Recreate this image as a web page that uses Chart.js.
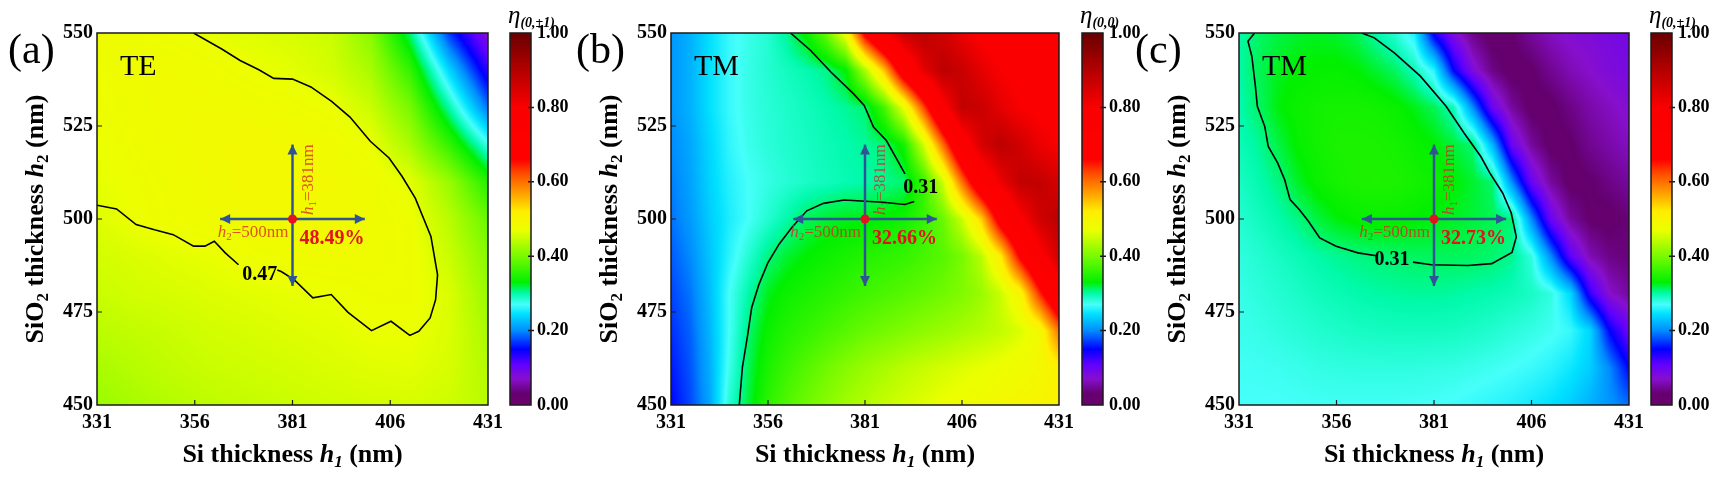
<!DOCTYPE html>
<html lang="en">
<head>
<meta charset="UTF-8">
<title>Diffraction efficiency maps</title>
<script src="https://cdn.jsdelivr.net/npm/chart.js"></script>
<style>
  html, body { margin: 0; padding: 0; background: #fff; }
  #wrap { position: relative; width: 1711px; height: 482px; overflow: hidden;
          font-family: 'Liberation Serif', 'Times New Roman', serif; }
  #wrap canvas { position: absolute; top: 0; }
  .txt { position: absolute; white-space: nowrap; line-height: 1; color: #000; }
  .axt { font-weight: bold; font-size: 26px; }
  .axt sub { font-size: 17px; vertical-align: -5px; line-height: 0; }
  .letter { font-size: 42px; }
  .mode { font-size: 30px; }
  .cbt { font-size: 25px; font-style: italic; }
  .cbt sub { font-size: 14px; font-weight: bold; vertical-align: -4px; line-height: 0; }
</style>
</head>
<body>
<div id="wrap"></div>
<script>
const FONT = "'Liberation Serif', 'Times New Roman', serif";

// axis ticks
const xTicks = [331, 356, 381, 406, 431];
const yTicks = [450, 475, 500, 525, 550];
const cbTicks = [0, 0.2, 0.4, 0.6, 0.8, 1.0];

// sample grid (nm)
const h1Coarse = [331, 341, 351, 361, 371, 381, 391, 401, 411, 421, 431];
const h1Fine = [331, 336, 341, 346, 351, 356, 361, 366, 371, 376, 381, 386, 391, 396, 401, 406, 411, 416, 421, 426, 431];
const h2Rows = [550, 540, 530, 520, 510, 500, 490, 480, 470, 460, 450];

// (a) TE, eta(0,+-1) - rows follow h2Rows, columns h1Coarse
const etaTE = [
  [0.480, 0.478, 0.473, 0.466, 0.462, 0.458, 0.450, 0.410, 0.310, 0.170, 0.075],
  [0.477, 0.480, 0.482, 0.478, 0.471, 0.465, 0.455, 0.430, 0.360, 0.240, 0.130],
  [0.475, 0.480, 0.483, 0.484, 0.482, 0.478, 0.472, 0.450, 0.400, 0.300, 0.190],
  [0.470, 0.478, 0.483, 0.486, 0.487, 0.486, 0.482, 0.471, 0.430, 0.360, 0.275],
  [0.466, 0.474, 0.480, 0.485, 0.488, 0.488, 0.486, 0.480, 0.466, 0.420, 0.350],
  [0.462, 0.472, 0.478, 0.483, 0.487, 0.485, 0.486, 0.482, 0.474, 0.440, 0.390],
  [0.455, 0.460, 0.465, 0.469, 0.476, 0.480, 0.482, 0.480, 0.476, 0.450, 0.410],
  [0.450, 0.455, 0.458, 0.462, 0.465, 0.468, 0.470, 0.476, 0.476, 0.460, 0.420],
  [0.440, 0.445, 0.450, 0.455, 0.458, 0.462, 0.465, 0.470, 0.471, 0.460, 0.430],
  [0.430, 0.438, 0.445, 0.450, 0.453, 0.456, 0.460, 0.463, 0.465, 0.458, 0.435],
  [0.420, 0.430, 0.437, 0.443, 0.447, 0.450, 0.453, 0.456, 0.457, 0.452, 0.440]
];

// (b) TM, eta(0,0) - columns h1Fine
const etaTM00 = [
  [0.205, 0.220, 0.245, 0.265, 0.276, 0.285, 0.305, 0.335, 0.390, 0.480, 0.680, 0.800, 0.870, 0.890, 0.860, 0.820, 0.790, 0.780, 0.770, 0.770, 0.770],
  [0.205, 0.220, 0.245, 0.265, 0.277, 0.285, 0.292, 0.298, 0.306, 0.330, 0.430, 0.550, 0.720, 0.830, 0.890, 0.870, 0.830, 0.800, 0.790, 0.780, 0.780],
  [0.205, 0.220, 0.245, 0.265, 0.277, 0.283, 0.288, 0.293, 0.298, 0.303, 0.310, 0.370, 0.470, 0.620, 0.780, 0.880, 0.870, 0.830, 0.800, 0.790, 0.790],
  [0.200, 0.215, 0.240, 0.262, 0.275, 0.282, 0.287, 0.291, 0.295, 0.299, 0.303, 0.308, 0.340, 0.450, 0.600, 0.760, 0.850, 0.890, 0.860, 0.820, 0.800],
  [0.195, 0.212, 0.238, 0.258, 0.270, 0.278, 0.284, 0.289, 0.293, 0.297, 0.300, 0.305, 0.310, 0.360, 0.450, 0.600, 0.740, 0.820, 0.880, 0.880, 0.850],
  [0.190, 0.208, 0.234, 0.255, 0.270, 0.285, 0.300, 0.315, 0.322, 0.326, 0.327, 0.332, 0.340, 0.360, 0.390, 0.450, 0.540, 0.700, 0.790, 0.860, 0.890],
  [0.182, 0.200, 0.230, 0.260, 0.285, 0.308, 0.322, 0.330, 0.337, 0.343, 0.350, 0.355, 0.360, 0.370, 0.380, 0.400, 0.440, 0.520, 0.670, 0.780, 0.860],
  [0.174, 0.192, 0.226, 0.270, 0.300, 0.325, 0.337, 0.345, 0.352, 0.360, 0.367, 0.373, 0.380, 0.387, 0.395, 0.405, 0.420, 0.450, 0.500, 0.640, 0.760],
  [0.166, 0.185, 0.222, 0.270, 0.310, 0.335, 0.350, 0.360, 0.370, 0.380, 0.390, 0.397, 0.405, 0.413, 0.420, 0.428, 0.436, 0.445, 0.460, 0.490, 0.600],
  [0.158, 0.180, 0.218, 0.275, 0.315, 0.345, 0.365, 0.380, 0.395, 0.408, 0.420, 0.430, 0.440, 0.448, 0.455, 0.462, 0.468, 0.475, 0.482, 0.490, 0.510],
  [0.150, 0.176, 0.214, 0.285, 0.320, 0.355, 0.378, 0.395, 0.410, 0.425, 0.437, 0.447, 0.456, 0.464, 0.472, 0.478, 0.484, 0.490, 0.495, 0.500, 0.510]
];

// (c) TM, eta(0,+-1) - columns h1Fine
const etaTM01 = [
  [0.300, 0.312, 0.318, 0.322, 0.324, 0.322, 0.315, 0.300, 0.285, 0.255, 0.140, 0.080, 0.040, 0.022, 0.030, 0.050, 0.065, 0.075, 0.080, 0.085, 0.090],
  [0.300, 0.315, 0.325, 0.330, 0.332, 0.333, 0.330, 0.322, 0.313, 0.295, 0.260, 0.150, 0.080, 0.040, 0.022, 0.028, 0.045, 0.060, 0.070, 0.080, 0.085],
  [0.298, 0.312, 0.328, 0.336, 0.340, 0.342, 0.342, 0.340, 0.335, 0.326, 0.315, 0.295, 0.200, 0.100, 0.050, 0.024, 0.026, 0.040, 0.055, 0.065, 0.075],
  [0.295, 0.303, 0.318, 0.332, 0.340, 0.345, 0.346, 0.345, 0.342, 0.336, 0.330, 0.320, 0.310, 0.220, 0.100, 0.050, 0.024, 0.028, 0.045, 0.055, 0.065],
  [0.290, 0.298, 0.307, 0.323, 0.335, 0.342, 0.346, 0.347, 0.346, 0.342, 0.337, 0.330, 0.322, 0.311, 0.200, 0.100, 0.050, 0.024, 0.028, 0.040, 0.050],
  [0.285, 0.292, 0.299, 0.307, 0.319, 0.328, 0.333, 0.335, 0.334, 0.331, 0.327, 0.324, 0.320, 0.316, 0.310, 0.200, 0.100, 0.050, 0.028, 0.024, 0.035],
  [0.280, 0.285, 0.290, 0.295, 0.300, 0.304, 0.307, 0.309, 0.311, 0.313, 0.314, 0.314, 0.313, 0.311, 0.305, 0.280, 0.200, 0.110, 0.060, 0.040, 0.035],
  [0.277, 0.281, 0.285, 0.289, 0.293, 0.296, 0.299, 0.301, 0.302, 0.303, 0.303, 0.302, 0.300, 0.298, 0.295, 0.290, 0.280, 0.240, 0.130, 0.070, 0.050],
  [0.275, 0.277, 0.280, 0.283, 0.286, 0.288, 0.290, 0.291, 0.292, 0.292, 0.292, 0.291, 0.289, 0.286, 0.282, 0.278, 0.273, 0.265, 0.240, 0.150, 0.100],
  [0.272, 0.273, 0.274, 0.276, 0.278, 0.279, 0.280, 0.280, 0.280, 0.280, 0.279, 0.278, 0.276, 0.273, 0.270, 0.266, 0.260, 0.250, 0.235, 0.200, 0.150],
  [0.270, 0.270, 0.270, 0.271, 0.272, 0.272, 0.272, 0.272, 0.272, 0.271, 0.270, 0.268, 0.265, 0.262, 0.258, 0.252, 0.245, 0.235, 0.220, 0.205, 0.190]
];

// iso-lines [h1, h2]; null = gap under the level label
const contourA = [[355.7, 550], [362.9, 545.7], [367.6, 542.6], [372.4, 540.1], [376.2, 537.8], [381.0, 537.6], [385.7, 535.5],
  [391.0, 531.6], [395.7, 527.4], [400.9, 520.9], [405.7, 516.4], [409.0, 511.5], [412.4, 505.6], [416.4, 495.3], [418.1, 485.0],
  [417.6, 478.3], [416.2, 473.4], [413.3, 469.8], [411.0, 468.7], [406.2, 472.5], [401.2, 470.0], [395.2, 474.9], [390.9, 479.7],
  [386.2, 478.8], [381.4, 483.7], [378.1, 485.9], [377.1, 486.3], null, [367.2, 487.7], [363.8, 490.9], [361.0, 494.0],
  [358.6, 492.7], [355.7, 492.7], [350.5, 495.8], [345.7, 497.1], [341.0, 498.5], [336.0, 502.7], [331, 503.7]];
const contourB = [[361.8, 550], [367.0, 545.3], [372.2, 539.5], [378.0, 533.7], [380.8, 530.5], [383.2, 524.7], [386.5, 521.1],
  [389.4, 515.7], [391.3, 512.1], null, [393.7, 504.7], [391.3, 503.9], [385.6, 504.5], [375.6, 505.1], [370.3, 504.2],
  [366.0, 502.2], [362.2, 497.8], [358.9, 493.3], [356.0, 488.3], [353.7, 482.5], [351.8, 476.2], [350.8, 469.1],
  [349.4, 460.1], [348.6, 450]];
const contourC = [[335.0, 550], [333.3, 547.8], [334.3, 543.7], [335.2, 535.7], [335.7, 530.3], [337.6, 524.9], [338.5, 519.5],
  [340.9, 515.1], [342.7, 510.6], [344.1, 505.2], [346.5, 502.5], [348.8, 499.4], [351.7, 494.9], [355.9, 492.7], [361.5, 490.9],
  [366.2, 490.1], null, [375.6, 488.4], [380.3, 487.7], [389.7, 487.5], [395.8, 488.0], [401.0, 491.0], [402.1, 495.2],
  [400.8, 501.6], [398.6, 507.0], [395.3, 512.4], [393.0, 516.8], [388.7, 523.1], [384.1, 530.3], [377.5, 538.4],
  [370.9, 544.6], [365.7, 548.7], [362.5, 550]];

// design point and arrows
const designPoint = [381, 500];
const arrowH1 = [362.5, 399.5];
const arrowH2 = [482, 520];

const letters = ['(a)', '(b)', '(c)'];
const modes = ['TE', 'TM', 'TM'];
const etaOrders = ['(0,±1)', '(0,0)', '(0,±1)'];
const designEff = ['48.49%', '32.66%', '32.73%'];
const levelText = ['0.47', '0.31', '0.31'];
const levelAt = [[372.6, 485.0], [395.4, 508.5], [370.2, 489.1]];

// rainbow palette of the colour bars
const cmapStops = [
  [0.00, [112, 0, 112]], [0.03, [100, 0, 110]], [0.07, [135, 15, 205]], [0.11, [95, 0, 255]], [0.15, [0, 0, 255]],
  [0.20, [0, 140, 255]], [0.245, [0, 225, 255]], [0.27, [70, 255, 250]], [0.30, [0, 250, 170]],
  [0.33, [0, 240, 0]], [0.40, [120, 250, 0]], [0.47, [235, 255, 0]], [0.52, [255, 238, 0]],
  [0.56, [255, 175, 0]], [0.62, [255, 80, 0]], [0.66, [255, 0, 0]], [0.80, [250, 0, 0]],
  [0.90, [180, 0, 0]], [1.00, [105, 0, 0]]
];

function cmap(v) {
  v = Math.max(0, Math.min(1, v));
  for (let k = 1; k < cmapStops.length; k++) {
    const [v1, c1] = cmapStops[k];
    if (v <= v1) {
      const [v0, c0] = cmapStops[k - 1];
      const t = (v - v0) / (v1 - v0);
      return [0, 1, 2].map(i => Math.round(c0[i] + (c1[i] - c0[i]) * t));
    }
  }
  return cmapStops[cmapStops.length - 1][1];
}

// value at (vx, vy) from the grid (shading between samples)
function sampleGrid(xs, ys, z, vx, vy) {
  const nx = xs.length, ny = ys.length;
  let fi = (vx - xs[0]) / (xs[1] - xs[0]);
  let fj = (ys[0] - vy) / (ys[0] - ys[1]);
  fi = Math.max(0, Math.min(nx - 1, fi));
  fj = Math.max(0, Math.min(ny - 1, fj));
  const i0 = Math.min(Math.floor(fi), nx - 2), j0 = Math.min(Math.floor(fj), ny - 2);
  const tx = fi - i0, ty = fj - j0;
  const a = z[j0][i0] * (1 - tx) + z[j0][i0 + 1] * tx;
  const b = z[j0 + 1][i0] * (1 - tx) + z[j0 + 1][i0 + 1] * tx;
  return a * (1 - ty) + b * ty;
}

function drawRich(ctx, parts, x, y, align, color) {
  let w = 0;
  parts.forEach(p => { ctx.font = p.f; p.w = ctx.measureText(p.t).width; w += p.w; });
  let cx = align === 'right' ? x - w : x;
  ctx.fillStyle = color;
  ctx.textAlign = 'left';
  ctx.textBaseline = 'alphabetic';
  parts.forEach(p => { ctx.font = p.f; ctx.fillText(p.t, cx, y + (p.dy || 0)); cx += p.w; });
}

function arrowHead(ctx, tx, ty, dx, dy) {
  const L = 10, W = 5;
  ctx.beginPath();
  ctx.moveTo(tx, ty);
  ctx.lineTo(tx - dx * L - dy * W, ty - dy * L + dx * W);
  ctx.lineTo(tx - dx * L + dy * W, ty - dy * L - dx * W);
  ctx.closePath();
  ctx.fill();
}

Chart.defaults.font.family = FONT;
const wrap = document.getElementById('wrap');

function addCanvas(left, width) {
  const c = document.createElement('canvas');
  c.width = width; c.height = 482;
  c.style.left = left + 'px';
  c.style.width = width + 'px'; c.style.height = '482px';
  wrap.appendChild(c);
  return c;
}

function addText(cls, html, left, top, extra) {
  const d = document.createElement('div');
  d.className = 'txt ' + cls;
  d.innerHTML = html;
  d.style.left = left + 'px';
  d.style.top = top + 'px';
  if (extra) Object.assign(d.style, extra);
  wrap.appendChild(d);
  return d;
}

const panels = [
  { plotLeft: 97, plotRight: 488, cbLeft: 510, letterLeft: 8, xs: h1Coarse, z: etaTE, contour: contourA },
  { plotLeft: 671, plotRight: 1059, cbLeft: 1082, letterLeft: 576, xs: h1Fine, z: etaTM00, contour: contourB },
  { plotLeft: 1239, plotRight: 1629, cbLeft: 1651, letterLeft: 1135, xs: h1Fine, z: etaTM01, contour: contourC }
];

panels.forEach((p, k) => {
  const canvasLeft = p.plotLeft - 97;
  const canvasW = p.plotRight - p.plotLeft + 97 + 32;
  const canvas = addCanvas(canvasLeft, canvasW);

  const heatmap = {
    id: 'heatmap',
    beforeDatasetsDraw(chart) {
      const { ctx, chartArea: a, scales: { x, y } } = chart;
      const w = Math.round(a.right - a.left), h = Math.round(a.bottom - a.top);
      const off = document.createElement('canvas');
      off.width = w; off.height = h;
      const octx = off.getContext('2d');
      const img = octx.createImageData(w, h);
      for (let j = 0; j < h; j++) {
        const vy = y.getValueForPixel(a.top + j + 0.5);
        for (let i = 0; i < w; i++) {
          const vx = x.getValueForPixel(a.left + i + 0.5);
          const c = cmap(sampleGrid(p.xs, h2Rows, p.z, vx, vy));
          const o = (j * w + i) * 4;
          img.data[o] = c[0]; img.data[o + 1] = c[1]; img.data[o + 2] = c[2]; img.data[o + 3] = 255;
        }
      }
      octx.putImageData(img, 0, 0);
      ctx.drawImage(off, a.left, a.top);
    }
  };

  const overlay = {
    id: 'overlay',
    afterDatasetsDraw(chart) {
      const { ctx, chartArea: a, scales: { x, y } } = chart;
      ctx.save();
      ctx.strokeStyle = '#1a1a1a';
      ctx.lineWidth = 1.5;
      ctx.strokeRect(a.left, a.top, a.right - a.left, a.bottom - a.top);
      ctx.lineWidth = 1.2;
      ctx.beginPath();
      xTicks.slice(1, -1).forEach(v => {
        const px = x.getPixelForValue(v);
        ctx.moveTo(px, a.bottom); ctx.lineTo(px, a.bottom - 5);
      });
      yTicks.slice(1, -1).forEach(v => {
        const py = y.getPixelForValue(v);
        ctx.moveTo(a.left, py); ctx.lineTo(a.left + 5, py);
      });
      ctx.stroke();

      // arrow heads
      const cx = x.getPixelForValue(designPoint[0]), cy = y.getPixelForValue(designPoint[1]);
      ctx.fillStyle = '#2f5496';
      arrowHead(ctx, x.getPixelForValue(arrowH1[0]), cy, -1, 0);
      arrowHead(ctx, x.getPixelForValue(arrowH1[1]), cy, 1, 0);
      arrowHead(ctx, cx, y.getPixelForValue(arrowH2[1]), 0, -1);
      arrowHead(ctx, cx, y.getPixelForValue(arrowH2[0]), 0, 1);

      const lbl = 'rgba(215, 40, 40, 0.78)';
      drawRich(ctx, [
        { t: 'h', f: `italic 17px ${FONT}` },
        { t: '2', f: `11px ${FONT}`, dy: 3 },
        { t: '=' + designPoint[1] + 'nm', f: `17px ${FONT}` }
      ], cx - 4, cy + 18, 'right', lbl);

      ctx.save();
      ctx.translate(cx + 20, cy - 4);
      ctx.rotate(-Math.PI / 2);
      drawRich(ctx, [
        { t: 'h', f: `italic 17px ${FONT}` },
        { t: '1', f: `11px ${FONT}`, dy: 3 },
        { t: '=' + designPoint[0] + 'nm', f: `17px ${FONT}` }
      ], 0, 0, 'left', lbl);
      ctx.restore();

      ctx.font = `bold 20px ${FONT}`;
      ctx.fillStyle = '#e3121f';
      ctx.textAlign = 'left';
      ctx.textBaseline = 'alphabetic';
      ctx.fillText(designEff[k], cx + 7, cy + 25);

      ctx.fillStyle = '#000';
      ctx.textAlign = 'center';
      ctx.textBaseline = 'middle';
      ctx.fillText(levelText[k], x.getPixelForValue(levelAt[k][0]), y.getPixelForValue(levelAt[k][1]));
      ctx.restore();
    }
  };

  new Chart(canvas, {
    type: 'scatter',
    data: {
      datasets: [
        { data: [{ x: designPoint[0], y: designPoint[1] }], pointRadius: 4.5, backgroundColor: '#e3121f',
          borderWidth: 0, order: 0 },
        { data: arrowH1.map(v => ({ x: v, y: designPoint[1] })), showLine: true, borderColor: '#2f5496',
          borderWidth: 2.5, pointRadius: 0, order: 1 },
        { data: arrowH2.map(v => ({ x: designPoint[0], y: v })), showLine: true, borderColor: '#2f5496',
          borderWidth: 2.5, pointRadius: 0, order: 1 },
        { data: p.contour.map(q => q ? { x: q[0], y: q[1] } : { x: null, y: null }), showLine: true,
          borderColor: '#000', borderWidth: 1.6, pointRadius: 0, spanGaps: false, order: 2 }
      ]
    },
    options: {
      responsive: false,
      animation: false,
      devicePixelRatio: 1,
      layout: { padding: { left: 0, top: 33, right: 32, bottom: 0 } },
      plugins: { legend: { display: false }, tooltip: { enabled: false } },
      scales: {
        x: {
          type: 'linear', min: 331, max: 431,
          afterBuildTicks: s => { s.ticks = xTicks.map(v => ({ value: v })); },
          afterFit: s => { s.height = 77; },
          grid: { display: false, drawTicks: false },
          border: { display: false },
          ticks: { color: '#000', font: { size: 20, weight: 'bold' }, padding: 6, maxRotation: 0, autoSkip: false }
        },
        y: {
          type: 'linear', min: 450, max: 550,
          afterBuildTicks: s => { s.ticks = yTicks.map(v => ({ value: v })); },
          afterFit: s => { s.width = 97; },
          grid: { display: false, drawTicks: false },
          border: { display: false },
          ticks: { color: '#000', font: { size: 20, weight: 'bold' }, padding: 4, autoSkip: false }
        }
      }
    },
    plugins: [heatmap, overlay]
  });

  // colour bar
  const cbCanvas = addCanvas(p.cbLeft - 5, 70);
  const colorbar = {
    id: 'colorbar',
    beforeDatasetsDraw(chart) {
      const { ctx, chartArea: a, scales: { y } } = chart;
      for (let py = Math.floor(a.top); py < a.bottom; py++) {
        const c = cmap(y.getValueForPixel(py + 0.5));
        ctx.fillStyle = `rgb(${c[0]},${c[1]},${c[2]})`;
        ctx.fillRect(a.left, py, a.right - a.left, 1);
      }
      ctx.strokeStyle = '#1a1a1a';
      ctx.lineWidth = 1.5;
      ctx.strokeRect(a.left, a.top, a.right - a.left, a.bottom - a.top);
      ctx.beginPath();
      cbTicks.slice(1, -1).forEach(v => {
        const py = y.getPixelForValue(v);
        ctx.moveTo(a.right - 3, py); ctx.lineTo(a.right + 3, py);
      });
      ctx.stroke();
    }
  };
  new Chart(cbCanvas, {
    type: 'scatter',
    data: { datasets: [] },
    options: {
      responsive: false,
      animation: false,
      devicePixelRatio: 1,
      layout: { padding: { left: 5, top: 33, right: 0, bottom: 77 } },
      plugins: { legend: { display: false }, tooltip: { enabled: false } },
      scales: {
        x: { display: false, min: 0, max: 1 },
        y: {
          position: 'right', min: 0, max: 1,
          afterBuildTicks: s => { s.ticks = cbTicks.map(v => ({ value: v })); },
          afterFit: s => { s.width = 44; },
          grid: { display: false, drawTicks: false },
          border: { display: false },
          ticks: { color: '#000', font: { size: 18, weight: 'bold' }, padding: 6, autoSkip: false,
                   callback: v => Number(v).toFixed(2) }
        }
      }
    },
    plugins: [colorbar]
  });

  // text around the panel
  const mid = (p.plotLeft + p.plotRight) / 2;
  addText('axt', 'Si thickness <i>h</i><sub><i>1</i></sub> (nm)', mid, 441, { transform: 'translateX(-50%)' });
  addText('axt', 'SiO<sub>2</sub> thickness <i>h</i><sub>2</sub> (nm)', p.plotLeft - 62, 219,
    { transform: 'translate(-50%, -50%) rotate(-90deg)' });
  addText('letter', letters[k], p.letterLeft, 28);
  addText('mode', modes[k], p.plotLeft + 23, 50);
  addText('cbt', 'η<sub>' + etaOrders[k] + '</sub>', p.cbLeft - 2, 2);
});
</script>
</body>
</html>
